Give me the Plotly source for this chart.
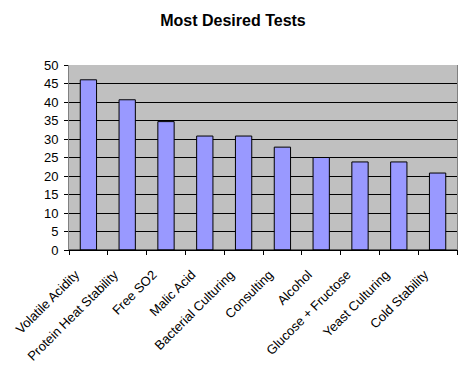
import plotly.graph_objects as go

categories = ["Volatile Acidity", "Protein Heat Stability", "Free SO2", "Malic Acid",
              "Bacterial Culturing", "Consulting", "Alcohol", "Glucose + Fructose",
              "Yeast Culturing", "Cold Stability"]
values = [46, 40.6, 34.7, 30.8, 30.8, 27.8, 25, 23.8, 23.8, 20.8]
y_ticks = [0, 5, 10, 15, 20, 25, 30, 35, 40, 45, 50]

# the page body has an 8px default margin, so the figure is drawn 8px in and down
fig = go.Figure(go.Bar(
    x=categories, y=values, width=0.42,
    marker=dict(color="#9999FF", line=dict(color="black", width=1)),
))

fig.update_layout(
    width=459, height=366,
    margin=dict(l=61, r=10, t=57, b=124, autoexpand=False),
    paper_bgcolor="white", plot_bgcolor="#C0C0C0",
    font=dict(family="Liberation Sans, Arial", size=13, color="black"),
    title=dict(text="<b>Most Desired Tests</b>", x=225 / 459, xanchor="center",
               xref="container", y=1 - 12 / 366, yanchor="middle",
               font=dict(size=16, color="black"), automargin=False),
    showlegend=False, bargap=0.58,
)
fig.update_xaxes(
    type="category", tickangle=-45, tickson="boundaries", ticks="outside",
    ticklen=4, tickcolor="black", showgrid=False, automargin=False,
    showline=True, linecolor="black", linewidth=1,
    range=[-0.5, len(categories) - 0.5],
    ticklabelshift=-13, ticklabelstandoff=11,
)
fig.update_yaxes(
    range=[0, 50], tickvals=y_ticks, ticks="outside", ticklen=4, tickcolor="black",
    showgrid=True, gridcolor="black", gridwidth=1, zeroline=False, automargin=False,
    showline=True, linecolor="#808080", linewidth=1, mirror=True,
    ticklabelstandoff=3,
)
fig.add_shape(type="line", xref="x domain", yref="y", x0=0, x1=1, y0=0, y1=0,
              line=dict(color="black", width=1))

fig.write_html("out.html")
